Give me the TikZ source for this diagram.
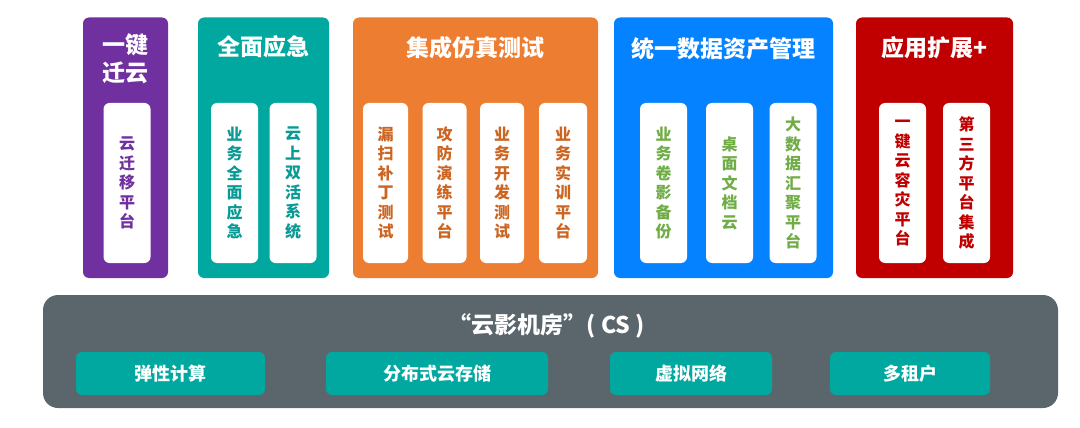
\documentclass[tikz,border=0pt]{standalone}
\usepackage{fontspec}
\setmainfont{Noto Sans CJK SC}
\definecolor{cpurple}{HTML}{7030A0}
\definecolor{cteal}{HTML}{00A8A0}
\definecolor{cteald}{HTML}{0A9A95}
\definecolor{corange}{HTML}{ED7D31}
\definecolor{coranged}{HTML}{CD6522}
\definecolor{cblue}{HTML}{0582FF}
\definecolor{cgreen}{HTML}{70AD47}
\definecolor{cred}{HTML}{C00000}
\definecolor{cgrey}{HTML}{5A666C}
\tikzset{
  panel/.style={rounded corners=6pt},
  head/.style={text=white, font=\bfseries\fontsize{23}{28}\selectfont, align=center},
  slot/.style={fill=white, rounded corners=6pt, minimum height=160pt, minimum width=47pt,
    inner sep=0pt, align=center, font=\bfseries\fontsize{16}{19.5}\selectfont},
  base/.style={fill=cteal, rounded corners=6pt, minimum height=43pt, inner sep=0pt,
    text=white, font=\bfseries\fontsize{18}{20}\selectfont}
}
\begin{document}
\begin{tikzpicture}[x=1pt,y=-1pt]
			\useasboundingbox (0,0) rectangle (1080,428);
			
			%%%%% TOP PANELS %%%%%
			\fill[panel, cpurple] (83,17.5) rectangle (168,278);
			\fill[panel, cteal] (198,17.5) rectangle (329,278);
			\fill[panel, corange] (353,17.5) rectangle (598,278);
			\fill[panel, cblue] (614,17.5) rectangle (833,278);
			\fill[panel, cred] (856,17.5) rectangle (1013,278);
			
			\node[head] (tqy) at (125.5,59) {一键\\迁云};
			\node[head] (tyj) at (263.5,47) {全面应急};
			\node[head] (tfz) at (475.5,48) {集成仿真测试};
			\node[head] (tsj) at (723.5,49) {统一数据资产管理};
			\node[head] (tkz) at (934.5,48) {应用扩展+};
			
			% purple
			\node[slot, text=cpurple] (qy1) at (127,183) {云\\迁\\移\\平\\台};
			% teal
			\node[slot, text=cteald] (yj1) at (234.5,183) {业\\务\\全\\面\\应\\急};
			\node[slot, text=cteald] (yj2) at (293,183) {云\\上\\双\\活\\系\\统};
			% orange
			\node[slot, text=coranged, minimum width=45pt] (fz1) at (385.5,183) {漏\\扫\\补\\丁\\测\\试};
			\node[slot, text=coranged, minimum width=44pt] (fz2) at (444.5,183) {攻\\防\\演\\练\\平\\台};
			\node[slot, text=coranged, minimum width=44pt] (fz3) at (502,183) {业\\务\\开\\发\\测\\试};
			\node[slot, text=coranged, minimum width=48pt] (fz4) at (563,183) {业\\务\\实\\训\\平\\台};
			% blue
			\node[slot, text=cgreen] (sj1) at (663.5,183) {业\\务\\卷\\影\\备\\份};
			\node[slot, text=cgreen] (sj2) at (729.5,183) {桌\\面\\文\\档\\云};
			\node[slot, text=cgreen] (sj3) at (793,183) {大\\数\\据\\汇\\聚\\平\\台};
			% red
			\node[slot, text=cred] (kz1) at (902.5,183) {一\\键\\云\\容\\灾\\平\\台};
			\node[slot, text=cred] (kz2) at (966.5,183) {第\\三\\方\\平\\台\\集\\成};
			
			%%%%% BASE %%%%%
			\fill[cgrey, rounded corners=15pt] (43,295) rectangle (1058,408);
			\node[head] (cs) at (547,326) {“云影机房”( CS )};
			
			\node[base, minimum width=189pt] (b1) at (170.5,373.5) {弹性计算};
			\node[base, minimum width=222pt] (b2) at (437,373.5) {分布式云存储};
			\node[base, minimum width=162pt] (b3) at (691,373.5) {虚拟网络};
			\node[base, minimum width=160pt] (b4) at (910,373.5) {多租户};
			
			%%%%% END %%%%%
\end{tikzpicture}
\end{document}
